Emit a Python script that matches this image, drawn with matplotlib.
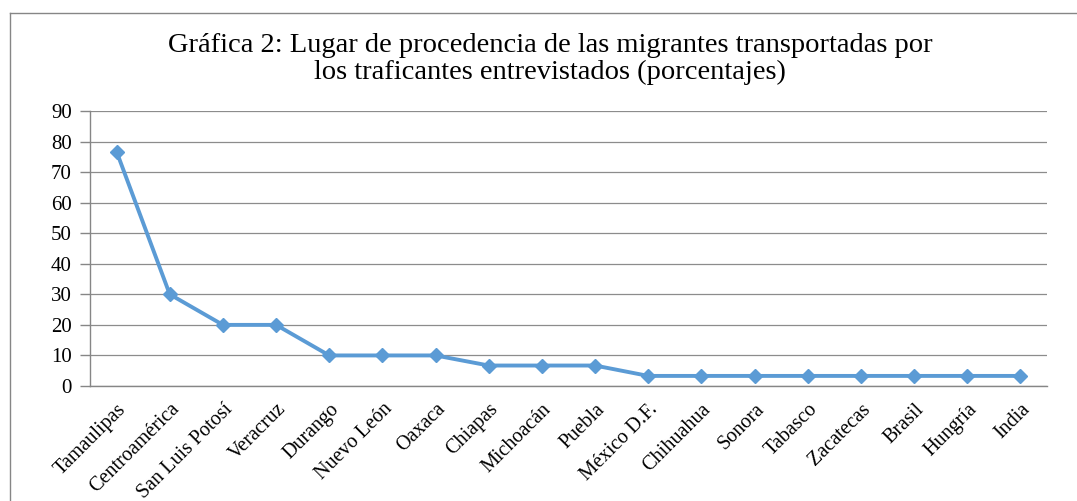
import numpy as np
import matplotlib.pyplot as plt
from matplotlib.lines import Line2D

# data
lugares = ['Tamaulipas', 'Centroamérica', 'San Luis Potosí', 'Veracruz', 'Durango',
           'Nuevo León', 'Oaxaca', 'Chiapas', 'Michoacán', 'Puebla', 'México D.F.',
           'Chihuahua', 'Sonora', 'Tabasco', 'Zacatecas', 'Brasil', 'Hungría', 'India']
porcentajes = [76.7, 30, 20, 20, 10, 10, 10, 6.7, 6.7, 6.7, 3.3,
               3.3, 3.3, 3.3, 3.3, 3.3, 3.3, 3.3]
yticks = list(range(0, 100, 10))

plt.rcParams['font.family'] = ['Liberation Serif', 'DejaVu Serif']

W, H = 1077, 501
fig = plt.figure(figsize=(W / 100, H / 100), dpi=100)
ax = fig.add_axes([90 / W, 1 - 386 / H, (1047 - 90) / W, (386 - 111) / H])

x = np.arange(len(lugares))
ax.plot(x, porcentajes, color='#5B9BD5', lw=2.8, marker='D', ms=7.5,
        markerfacecolor='#5B9BD5', markeredgecolor='#5B9BD5', zorder=3)

ax.set_xlim(-0.5, len(lugares) - 0.5)
ax.set_ylim(0, 90)
ax.set_yticks(yticks)
ax.set_yticklabels([str(v) for v in yticks], fontsize=15)
ax.set_xticks(x)
ax.set_xticklabels(lugares, rotation=45, ha='right', rotation_mode='anchor', fontsize=14.5)
ax.tick_params(axis='y', length=7, color='#868686', width=1, pad=6)
ax.tick_params(axis='x', length=0, pad=10)
ax.yaxis.grid(True, color='#8c8c8c', lw=0.9)
ax.set_axisbelow(True)
for s in ['top', 'right']:
    ax.spines[s].set_visible(False)
for s in ['left', 'bottom']:
    ax.spines[s].set_color('#868686')
    ax.spines[s].set_linewidth(1)

fig.text(550 / W, 1 - 33 / H,
         'Gráfica 2: Lugar de procedencia de las migrantes transportadas por\n'
         'los traficantes entrevistados (porcentajes)',
         ha='center', va='top', fontsize=20.5, linespacing=1.12)

# chart frame
fig.add_artist(Line2D([10 / W, 10 / W], [0, 1 - 13 / H], color='#868686', lw=1,
                      transform=fig.transFigure))
fig.add_artist(Line2D([10 / W, 1], [1 - 13 / H, 1 - 13 / H], color='#868686', lw=1,
                      transform=fig.transFigure))

fig.savefig('out.png', dpi=100)
